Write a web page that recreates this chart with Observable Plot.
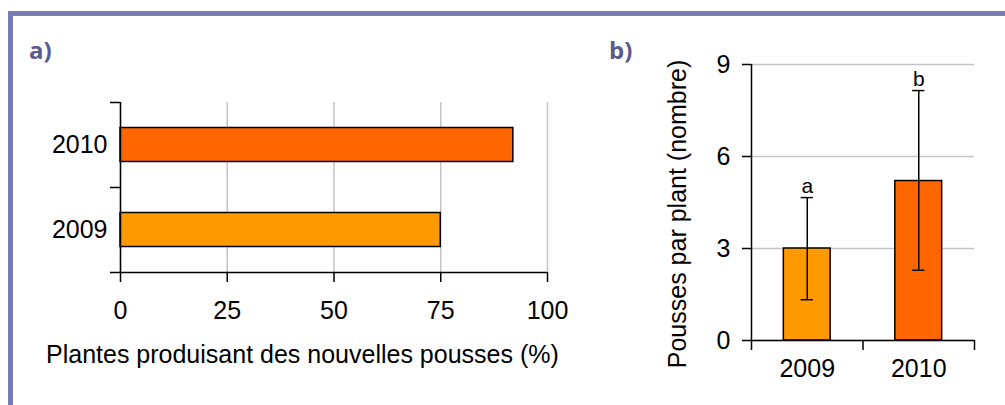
<!DOCTYPE html>
<html><head><meta charset="utf-8">
<script src="https://cdn.jsdelivr.net/npm/d3@7"></script>
<script src="https://cdn.jsdelivr.net/npm/@observablehq/plot@0.6"></script>
<style>
html,body{margin:0;padding:0;background:#fff;}
#root{position:relative;width:1005px;height:405px;overflow:hidden;background:#fff;font-family:"Liberation Sans",Arial,sans-serif;}
#frame{position:absolute;left:8px;top:11px;width:1010px;height:410px;border-top:5px solid #7b7bb4;border-left:5px solid #7b7bb4;}
.plabel{position:absolute;font-family:"Open Sans",Lato,sans-serif;font-weight:700;font-size:24px;line-height:1;color:#5a5a92;}
#pa{position:absolute;left:0;top:0;}
#pb{position:absolute;left:600px;top:0;}
#xlabA{position:absolute;left:46px;top:342px;font-size:25px;line-height:1;white-space:nowrap;color:#000;}
#ylabB{position:absolute;left:677px;top:214px;font-size:25px;line-height:1;white-space:nowrap;color:#000;transform:translate(-50%,-50%) rotate(-90deg);}
</style></head>
<body><div id="root">
<div id="frame"></div>
<div id="pa"></div>
<div id="pb"></div>
<div class="plabel" style="left:29px;top:38px;">a)</div>
<div class="plabel" style="left:609px;top:38px;">b)</div>
<div id="xlabA">Plantes produisant des nouvelles pousses (%)</div>
<div id="ylabB">Pousses par plant (nombre)</div>
</div>
<script>
// ---- data ----
const yearsA = ["2009", "2010"];
const pctA = [75, 92];
const colorsA = ["#FF9900", "#FF6600"];
const xTicksA = [0, 25, 50, 75, 100];

const yearsB = ["2009", "2010"];
const meanB = [3.0, 5.2];
const lowB = [1.33, 2.29];
const highB = [4.66, 8.15];
const lettersB = ["a", "b"];
const colorsB = ["#FF9900", "#FF6600"];
const yTicksB = [0, 3, 6, 9];

const dataA = yearsA.map((y, i) => ({i, year: y, pct: pctA[i], color: colorsA[i]}));
const dataB = yearsB.map((y, i) => ({i, year: y, mean: meanB[i], lo: lowB[i], hi: highB[i], letter: lettersB[i], color: colorsB[i]}));

const font = "'Liberation Sans', Arial, sans-serif";
const grid = "#c4c4c4";

const chartA = Plot.plot({
  width: 600, height: 405,
  marginLeft: 120, marginRight: 53, marginTop: 102, marginBottom: 133,
  style: {fontSize: "25px", fontFamily: font, color: "#000", background: "transparent"},
  x: {domain: [0, 100]},
  y: {domain: [0, yearsA.length]},
  color: {type: "identity"},
  marks: [
    Plot.gridX({ticks: xTicksA, stroke: grid, strokeOpacity: 1, strokeWidth: 1.5}),
    Plot.rectX(dataA, {x1: 0, x2: "pct", y1: d => d.i + 0.3, y2: d => d.i + 0.7, fill: "color", stroke: "#000", strokeWidth: 1.5}),
    Plot.ruleX([0], {stroke: "#000", strokeWidth: 1.5}),
    Plot.ruleY([0], {stroke: "#000", strokeWidth: 1.5}),
    Plot.axisX({ticks: xTicksA, tickSize: 10, tickPadding: 19, tickFormat: d => String(d), label: null, strokeWidth: 1.5}),
    Plot.axisY({ticks: d3.range(yearsA.length + 1), tickSize: 10, tickFormat: () => "", label: null, strokeWidth: 1.5}),
    Plot.axisY({ticks: yearsA.map((_, i) => i + 0.5), tickSize: 0, tickPadding: 13, tickFormat: d => yearsA[Math.floor(d)], label: null})
  ]
});
document.getElementById("pa").appendChild(chartA);

const chartB = Plot.plot({
  width: 405, height: 405,
  marginLeft: 151, marginRight: 31, marginTop: 64, marginBottom: 65,
  style: {fontSize: "25px", fontFamily: font, color: "#000", background: "transparent"},
  x: {domain: [0, yearsB.length]},
  y: {domain: [0, 9]},
  color: {type: "identity"},
  marks: [
    Plot.gridY({ticks: yTicksB, stroke: grid, strokeOpacity: 1, strokeWidth: 1.5}),
    Plot.rectY(dataB, {x1: d => d.i + 0.29, x2: d => d.i + 0.71, y1: 0, y2: "mean", fill: "color", stroke: "#000", strokeWidth: 1.5}),
    Plot.ruleX(dataB, {x: d => d.i + 0.5, y1: "lo", y2: "hi", stroke: "#000", strokeWidth: 1.5}),
    Plot.ruleY(dataB, {y: "hi", x1: d => d.i + 0.445, x2: d => d.i + 0.555, stroke: "#000", strokeWidth: 1.5}),
    Plot.ruleY(dataB, {y: "lo", x1: d => d.i + 0.445, x2: d => d.i + 0.555, stroke: "#000", strokeWidth: 1.5}),
    Plot.text(dataB, {x: d => d.i + 0.5, y: "hi", text: "letter", lineAnchor: "bottom", dy: -5, fontSize: 21, fill: "#000"}),
    Plot.ruleX([0], {stroke: "#000", strokeWidth: 1.5}),
    Plot.ruleY([0], {stroke: "#000", strokeWidth: 1.5}),
    Plot.axisY({ticks: yTicksB, tickSize: 9, tickPadding: 12, tickFormat: d => String(d), label: null, strokeWidth: 1.5}),
    Plot.axisX({ticks: d3.range(yearsB.length + 1), tickSize: 10, tickFormat: () => "", label: null, strokeWidth: 1.5}),
    Plot.axisX({ticks: yearsB.map((_, i) => i + 0.5), tickSize: 0, tickPadding: 19, tickFormat: d => yearsB[Math.floor(d)], label: null})
  ]
});
document.getElementById("pb").appendChild(chartB);
</script>
</body></html>
